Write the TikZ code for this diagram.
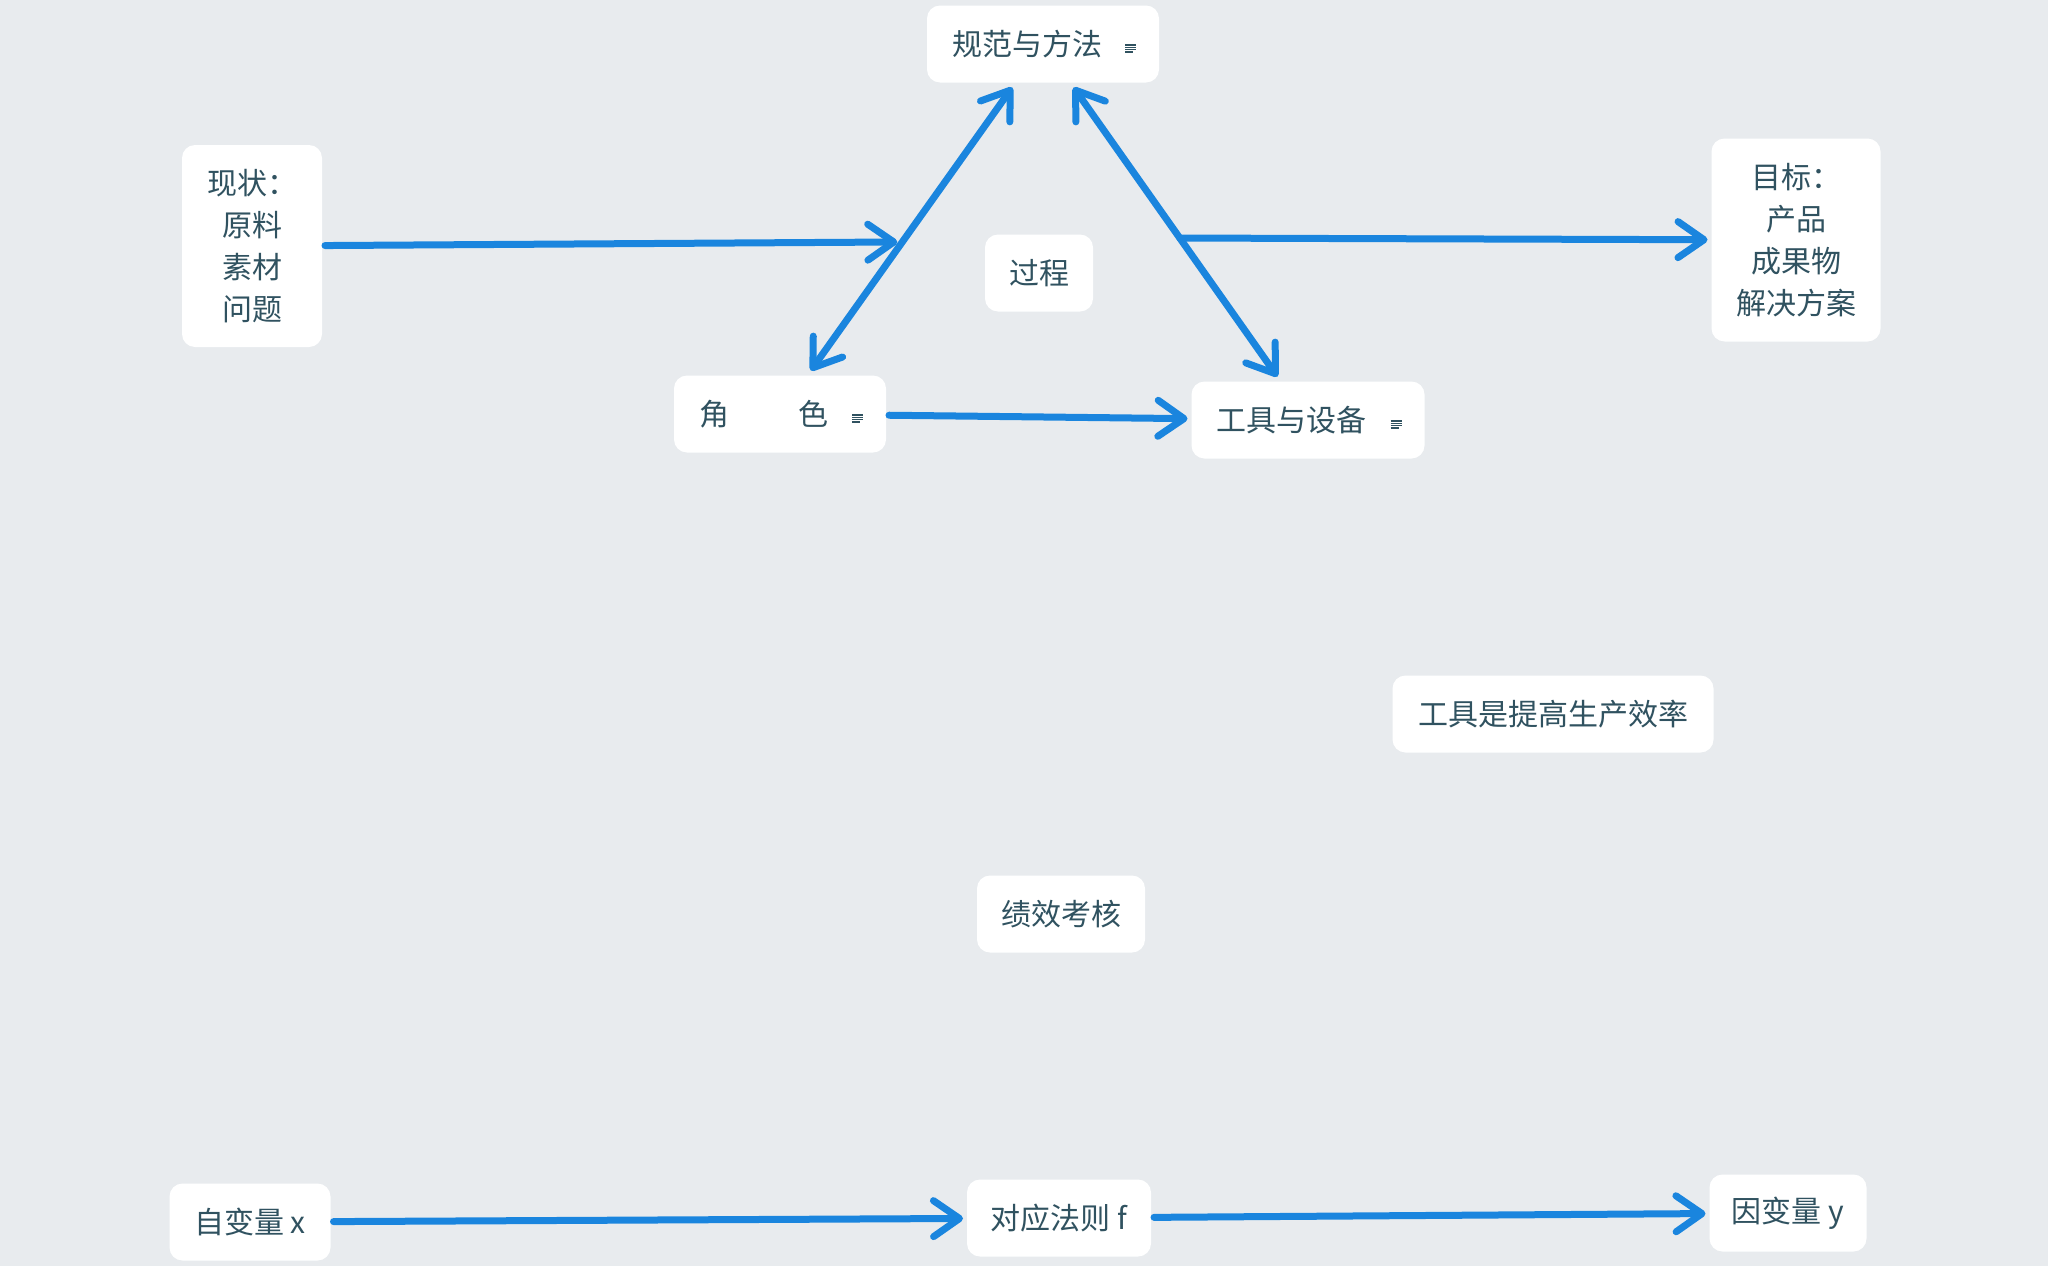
\documentclass[tikz,border=0pt]{standalone}
\usepackage{fontspec}
\setmainfont{Noto Sans CJK SC}
\usetikzlibrary{arrows.meta,calc}
\definecolor{bgc}{RGB}{232,235,238}
\definecolor{lnc}{RGB}{26,133,222}
\definecolor{txc}{RGB}{48,82,96}
\tikzset{
 box/.style={fill=white, rounded corners=13pt, minimum height=77pt, inner sep=0pt, outer sep=0pt, text=txc, font=\fontsize{30}{42}\selectfont, align=center},
 tipx/.tip={Straight Barb[length=26pt,width=36pt,round]},
 conn/.style={draw=lnc, line width=7pt, line cap=round, -tipx, shorten >=4pt, shorten <=3pt},
 biconn/.style={draw=lnc, line width=7pt, line cap=round, tipx-tipx, shorten >=6pt, shorten <=6pt},
 icon/.style={draw=txc, line width=1.2pt}
}
\newcommand\noteicon[1]{%
 \foreach \k in {1,3.3,5.6}{\draw[icon] ($(#1.east)+(-34,\k)$) -- ++(11,0);}
 \draw[icon] ($(#1.east)+(-34,7.9)$) -- ++(8,0);}
\begin{document}
\begin{tikzpicture}[x=1pt,y=-1pt]
\fill[bgc] (0,0) rectangle (2048,1266);
\useasboundingbox (0,0) rectangle (2048,1266);
\node[box, minimum width=232pt] (gf) at (1043,44) {规范与方法\hspace{32pt}};
\node[box, minimum width=140pt, minimum height=202pt] (xz) at (252,246) {现状：\\原料\\素材\\问题};
\node[box, minimum width=108pt] (gc) at (1039,273) {过程};
\node[box, minimum width=212pt] (js) at (780,414) {角\hspace{69pt}色\hspace{33pt}};
\node[box, minimum width=233pt] (gj) at (1308,420) {工具与设备\hspace{33pt}};
\node[box, minimum width=169pt, minimum height=203pt] (mb) at (1796,240) {目标：\\产品\\成果物\\解决方案};
\node[box, minimum width=321pt] (gx) at (1553,714) {工具是提高生产效率};
\node[box, minimum width=168pt] (jx) at (1061,914) {绩效考核};
\node[box, minimum width=161pt] (zb) at (250,1222) {自变量 x};
\node[box, minimum width=184pt] (dy) at (1059,1218) {对应法则 f};
\node[box, minimum width=157pt] (yb) at (1788,1213) {因变量 y};
\noteicon{gf}
\noteicon{js}
\noteicon{gj}
\coordinate (j1) at ($(gf)!0.535!(js)$);
\coordinate (j2) at ($(gf)!0.516!(gj)$);
\draw[biconn] (gf) -- (js);
\draw[biconn] (gf) -- (gj);
\draw[conn, shorten >=5pt] (xz) -- (j1);
\draw[conn, shorten <=0pt] (j2) -- (mb);
\draw[conn] (js) -- (gj);
\draw[conn] (zb) -- (dy);
\draw[conn] (dy) -- (yb);
\end{tikzpicture}
\end{document}
